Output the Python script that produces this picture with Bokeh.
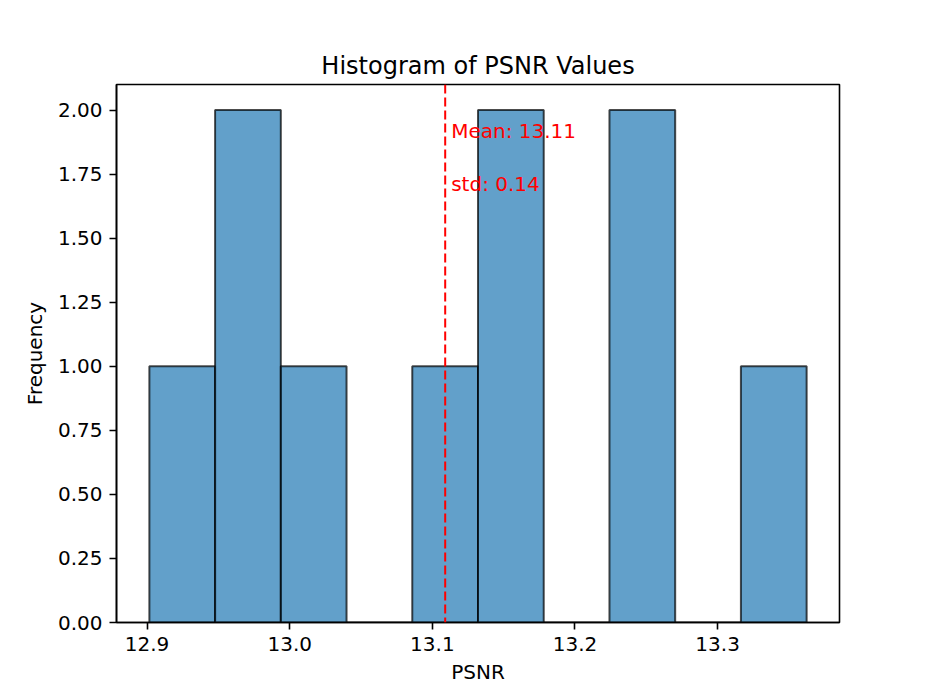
import numpy as np
from bokeh.plotting import figure
from bokeh.models import Span, FixedTicker, NumeralTickFormatter, Label
from bokeh.embed import file_html
from bokeh.resources import INLINE

# ---- data ----
bin_counts = [1, 2, 1, 0, 1, 2, 0, 2, 0, 1]
psnr_min = 12.9016
psnr_max = 13.3624
mean_psnr = 13.109
std_psnr = 0.14
x_ticks = [12.9, 13.0, 13.1, 13.2, 13.3]
y_ticks = [0.0, 0.25, 0.5, 0.75, 1.0, 1.25, 1.5, 1.75, 2.0]

edges = np.linspace(psnr_min, psnr_max, len(bin_counts) + 1)
span = psnr_max - psnr_min
FONT = "DejaVu Sans"

p = figure(width=924, height=691, output_backend="svg", toolbar_location=None,
           x_range=(psnr_min - 0.05 * span, psnr_max + 0.05 * span),
           y_range=(0, 2.1),
           min_border_left=116, min_border_right=85, min_border_top=84,
           min_border_bottom=69, title="Histogram of PSNR Values")

p.quad(left=edges[:-1], right=edges[1:], bottom=0, top=bin_counts,
       fill_color="#1f77b4", fill_alpha=0.7, line_color="black",
       line_alpha=0.7, line_width=2)

p.add_layout(Span(location=mean_psnr, dimension="height", line_color="red",
                  line_dash="9 4", line_width=2))

p.add_layout(Label(x=mean_psnr, y=1.918, x_offset=6, text=f"Mean: {mean_psnr:.2f}",
                   text_color="red", text_font=FONT, text_font_size="20px",
                   text_baseline="alphabetic"))
p.add_layout(Label(x=mean_psnr, y=1.711, x_offset=6, text=f"std: {std_psnr:.2f}",
                   text_color="red", text_font=FONT, text_font_size="20px",
                   text_baseline="alphabetic"))

p.title.align = "center"
p.title.text_font = FONT
p.title.text_font_size = "24px"
p.title.text_font_style = "normal"
p.title.text_color = "black"

p.xgrid.visible = False
p.ygrid.visible = False
p.outline_line_color = "black"
p.outline_line_width = 1.6
p.outline_line_alpha = 1.0

p.xaxis.ticker = FixedTicker(ticks=x_ticks)
p.yaxis.ticker = FixedTicker(ticks=y_ticks)
p.xaxis.formatter = NumeralTickFormatter(format="0.0")
p.yaxis.formatter = NumeralTickFormatter(format="0.00")
p.xaxis.axis_label = "PSNR"
p.yaxis.axis_label = "Frequency"

for ax in (p.xaxis[0], p.yaxis[0]):
    ax.axis_line_color = "black"
    ax.axis_line_width = 1.6
    ax.major_tick_line_color = "black"
    ax.major_tick_line_width = 1.6
    ax.major_tick_out = 7
    ax.major_tick_in = 0
    ax.minor_tick_line_color = None
    ax.major_label_text_font = FONT
    ax.major_label_text_font_size = "20px"
    ax.major_label_text_color = "black"
    ax.axis_label_text_font = FONT
    ax.axis_label_text_font_size = "20px"
    ax.axis_label_text_font_style = "normal"
    ax.axis_label_text_color = "black"

p.xaxis[0].major_label_standoff = 7
p.xaxis[0].axis_label_standoff = 6
p.yaxis[0].major_label_standoff = 7
p.yaxis[0].axis_label_standoff = 8

open("out.html", "w").write(file_html(p, INLINE))
